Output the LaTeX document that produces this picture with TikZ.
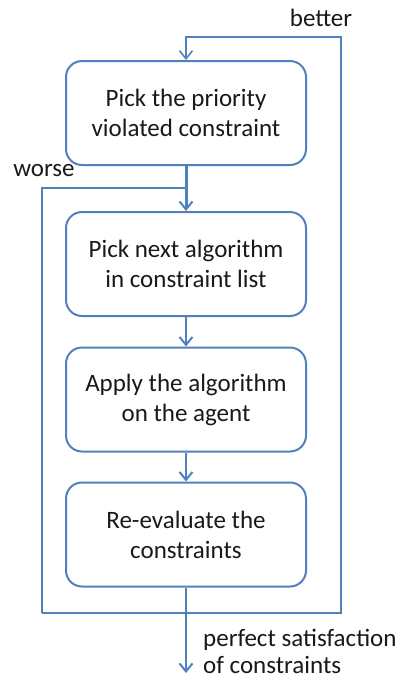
\documentclass[tikz,border=0pt]{standalone}
\usepackage{fontspec}
\setmainfont{Carlito}
\usetikzlibrary{arrows.meta}
\definecolor{flowblue}{RGB}{79,129,189}
\definecolor{inktext}{RGB}{25,25,25}
\tikzset{
  stepbox/.style={draw=flowblue, line width=2pt, rounded corners=16pt,
    minimum width=240pt, minimum height=104pt, align=center,
    text=inktext, font=\fontsize{25}{30}\selectfont},
  flow/.style={draw=flowblue, line width=2.5pt,
    -{Straight Barb[length=8pt,width=13pt,line width=2pt]}},
  loopline/.style={draw=flowblue, line width=1.6pt},
  looparrow/.style={loopline, -{Straight Barb[length=8pt,width=13pt,line width=1.6pt]}},
  tag/.style={text=inktext, font=\fontsize{25}{27}\selectfont, inner sep=0pt}
}
\begin{document}
\begin{tikzpicture}[x=1pt,y=-1pt]
\useasboundingbox (0,0) rectangle (402,678);

% process steps
\node[stepbox] (b1) at (186,113) {Pick the priority\\violated constraint};
\node[stepbox] (b2) at (186,264) {Pick next algorithm\\in constraint list};
\node[stepbox] (b3) at (186,399.5) {Apply the algorithm\\on the agent};
\node[stepbox] (b4) at (186,534.5) {Re-evaluate the\\constraints};

% loop corners
\coordinate (tr) at (341,37);
\coordinate (tc) at (186,37);
\coordinate (br) at (341,613);
\coordinate (bl) at (42,613);
\coordinate (wl) at (42,188);
\coordinate (wc) at (186,188);
\coordinate (exit) at (186,673);

% main sequence
\draw[flow, line width=3pt] (b1.south) -- (b2.north);
\draw[flow] (b2.south) -- (b3.north);
\draw[flow] (b3.south) -- (b4.north);
\draw[flow] (b4.south) -- (exit);

% feedback loops
\draw[looparrow] (bl) -- (br) -- (tr) -- (tc) -- (b1.north);
\draw[loopline] (bl) -- (wl) -- (wc);

% labels
\node[tag] (better) at (321,18) {better};
\node[tag] (worse) at (44,171) {worse};
\node[tag, anchor=west, align=left] (perfect) at (203,651) {perfect satisfaction\\of constraints};
\end{tikzpicture}
\end{document}
